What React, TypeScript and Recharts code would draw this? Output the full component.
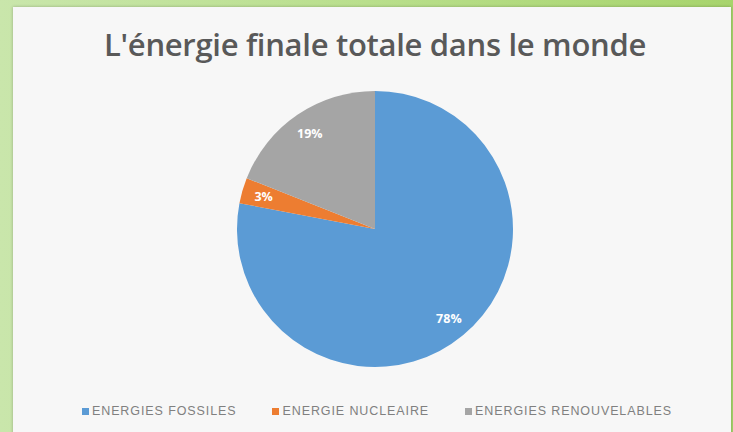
import { Cell, Legend, Pie, PieChart } from "recharts";

const categories = ["ENERGIES FOSSILES", "ENERGIE NUCLEAIRE", "ENERGIES RENOUVELABLES"];
const shares = [78, 3, 19];
const colors = ["#5B9BD5", "#ED7D31", "#A5A5A5"];

const data = categories.map((name, i) => ({ name, value: shares[i] }));

const RAD = Math.PI / 180;

function renderLabel(props: any) {
  const { cx, cy, midAngle, outerRadius, value } = props;
  const r = outerRadius * 0.84;
  const x = cx + r * Math.cos(-midAngle * RAD);
  const y = cy + r * Math.sin(-midAngle * RAD);
  return (
    <text
      x={x}
      y={y}
      fill="#ffffff"
      textAnchor="middle"
      dominantBaseline="central"
      fontSize={12.5}
      fontWeight={700}
      fontFamily="'Open Sans', sans-serif"
    >
      {`${value}%`}
    </text>
  );
}

function LegendContent() {
  return (
    <div style={{ display: "flex", justifyContent: "center", gap: 36, paddingLeft: 10, fontFamily: "'Liberation Sans', Arial, sans-serif", fontSize: 12.5, letterSpacing: 0.9, color: "#808080" }}>
      {categories.map((c, i) => (
        <div key={c} style={{ display: "flex", alignItems: "center", gap: 3 }}>
          <span style={{ width: 7, height: 7, background: colors[i], display: "inline-block" }} />
          <span>{c}</span>
        </div>
      ))}
    </div>
  );
}

export default function App() {
  return (
    <div
      style={{
        position: "absolute",
        left: 0,
        top: 0,
        width: 733,
        height: 432,
        background: "linear-gradient(90deg, #c9e6ab 0%, #b9df8c 50%, #a7d46c 100%)",
        overflow: "hidden",
      }}
    >
      <div
        style={{
          position: "absolute",
          left: 13,
          top: 7,
          width: 718,
          height: 430,
          background: "#f7f7f7",
          boxShadow: "0 0 3px rgba(0,0,0,0.25)",
        }}
      >
        <div
          style={{
            position: "absolute",
            left: 0,
            top: 16,
            width: 724,
            textAlign: "center",
            fontFamily: "'Open Sans', sans-serif",
            fontWeight: 600,
            fontSize: 31,
            letterSpacing: -0.3,
            color: "#595959",
          }}
        >
          L'énergie finale totale dans le monde
        </div>
        <PieChart width={718} height={425}>
          <Pie
            data={data}
            dataKey="value"
            nameKey="name"
            cx={357}
            cy={217}
            outerRadius={138}
            startAngle={90}
            endAngle={-270}
            stroke="none"
            label={renderLabel}
            labelLine={false}
            isAnimationActive={false}
          >
            {data.map((d, i) => (
              <Cell key={d.name} fill={colors[i]} />
            ))}
          </Pie>
          <Legend
            content={<LegendContent />}
            wrapperStyle={{ left: 0, top: 397, width: 718 }}
          />
        </PieChart>
      </div>
    </div>
  );
}
